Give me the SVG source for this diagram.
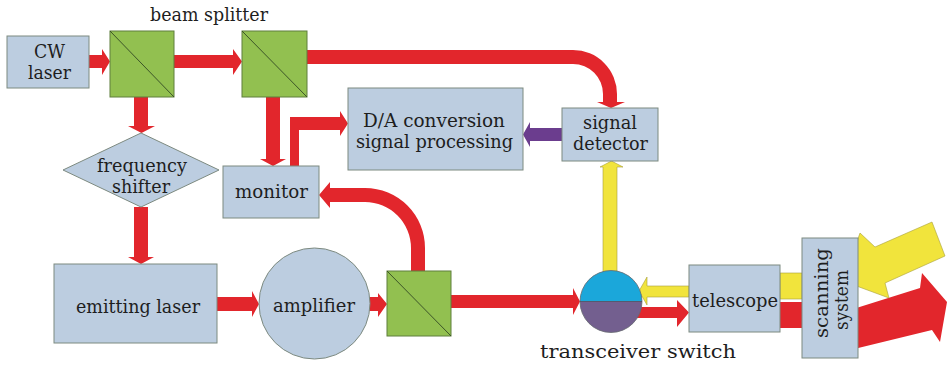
<svg xmlns="http://www.w3.org/2000/svg" width="947" height="365" viewBox="0 0 947 365">
  <style>
    .box { fill: #bccde0; stroke: #7d8a80; stroke-width: 1; }
    .bs { fill: #92c050; stroke: #5f7f3c; stroke-width: 1; }
    .diag { stroke: #3c5528; stroke-width: 1; }
    .red { fill: #e2262c; }
    .yel { fill: #f1e43c; stroke: #a79f3a; stroke-width: 0.6; }
    .pur { fill: #6b3d8e; }
    .lbl { font-family: "DejaVu Serif", "Liberation Serif", serif; font-size: 19px; fill: #1e1e1e; text-anchor: middle; }
  </style>

  <!-- connectors (beams) -->
  <g id="connectors">
    <!-- CW laser -> beam splitter 1 -->
    <polygon class="red" points="89,55 102,55 102,49 110,61.5 102,75 102,68 89,68"/>
    <!-- beam splitter 1 -> beam splitter 2 -->
    <polygon class="red" points="174,55 233,55 233,49 242,61.5 233,75 233,68 174,68"/>
    <!-- beam splitter 2 -> signal detector -->
    <path class="red" d="M307,50 H573 A44,44 0 0 1 617,94 V102 H625 L611,108 L597,102 H603 V94 A30,30 0 0 0 573,64 H307 Z"/>
    <!-- beam splitter 1 -> frequency shifter -->
    <polygon class="red" points="134,97 148,97 148,126 155,126 141.5,133 128,126 134,126"/>
    <!-- frequency shifter -> emitting laser -->
    <polygon class="red" points="134,207 148,207 148,257 154,257 141,264 128,257 134,257"/>
    <!-- beam splitter 2 -> monitor -->
    <polygon class="red" points="266,97 280,97 280,159 286,159 273,166 260,159 266,159"/>
    <!-- monitor -> D/A conversion -->
    <path class="red" d="M290,166 V117 H340 V111 L348,123.5 L340,136 V130 H299 V166 Z"/>
    <!-- emitting laser -> amplifier -->
    <polygon class="red" points="217,297 252,297 252,291 259,304 252,317 252,311 217,311"/>
    <!-- amplifier -> beam splitter 3 -->
    <polygon class="red" points="369,297 378,297 378,293 387,304 378,317 378,311 369,311"/>
    <!-- beam splitter 3 -> monitor -->
    <path class="red" d="M425,271 V248 A60,60 0 0 0 365,188 H330 V182 L319,195 L330,208 V202 H365 A46,46 0 0 1 411,248 V271 Z"/>
    <!-- beam splitter 3 -> transceiver switch -->
    <polygon class="red" points="451,295 573,295 573,288 580,301.5 573,315 573,308 451,308"/>
    <!-- transceiver switch -> telescope -->
    <polygon class="red" points="630,307 677,307 677,300 689,312.5 677,327 677,318 630,318"/>
    <!-- telescope -> transceiver switch (return) -->
    <polygon class="yel" points="689,286 647,286 647,277 639,291 647,305 647,297 689,297"/>
    <!-- transceiver switch -> signal detector -->
    <polygon class="yel" points="603,272 603,167 600,167 611.5,161 623,167 617,167 617,272"/>
    <!-- signal detector -> D/A conversion -->
    <polygon class="pur" points="562,128 530,128 530,122 523,134.5 530,147 530,141 562,141"/>
    <!-- telescope <-> scanning system -->
    <rect class="yel" x="780" y="273" width="22" height="26"/>
    <rect class="red" x="780" y="302" width="22" height="26"/>
    <!-- outgoing beam -->
    <polygon class="red" points="850,310 920,288 922,273 947,302 940,342 932,330 850,350"/>
    <!-- incoming echo -->
    <polygon class="yel" points="932,222 945,256 885,283 889,298 843,281 860,233 875,247"/>
  </g>

  <g id="cw-laser">
    <rect class="box" x="7" y="36" width="82" height="52"/>
    <text class="lbl" x="49.5" y="58" textLength="31" lengthAdjust="spacingAndGlyphs">CW</text>
    <text class="lbl" x="49.5" y="79" textLength="43" lengthAdjust="spacingAndGlyphs">laser</text>
  </g>

  <g id="beam-splitter-label">
    <text class="lbl" x="209" y="21" textLength="118" lengthAdjust="spacingAndGlyphs">beam splitter</text>
  </g>

  <g id="beam-splitter-1">
    <rect class="bs" x="110" y="31" width="64" height="66"/>
    <line class="diag" x1="110" y1="31" x2="174" y2="97"/>
  </g>

  <g id="beam-splitter-2">
    <rect class="bs" x="242" y="31" width="65" height="66"/>
    <line class="diag" x1="242" y1="31" x2="307" y2="97"/>
  </g>

  <g id="beam-splitter-3">
    <rect class="bs" x="387" y="271" width="64" height="65"/>
    <line class="diag" x1="387" y1="271" x2="451" y2="336"/>
  </g>

  <g id="frequency-shifter">
    <polygon class="box" points="63,170 141,133 219,170 141,207"/>
    <text class="lbl" x="142" y="172" textLength="90" lengthAdjust="spacingAndGlyphs">frequency</text>
    <text class="lbl" x="141" y="193" textLength="58" lengthAdjust="spacingAndGlyphs">shifter</text>
  </g>

  <g id="monitor">
    <rect class="box" x="223" y="166" width="96" height="52"/>
    <text class="lbl" x="271.5" y="198" textLength="73" lengthAdjust="spacingAndGlyphs">monitor</text>
  </g>

  <g id="da-conversion">
    <rect class="box" x="348" y="88" width="175" height="82"/>
    <text class="lbl" x="434" y="127" textLength="142" lengthAdjust="spacingAndGlyphs">D/A conversion</text>
    <text class="lbl" x="434.5" y="148" textLength="157" lengthAdjust="spacingAndGlyphs">signal processing</text>
  </g>

  <g id="signal-detector">
    <rect class="box" x="562" y="108" width="96" height="53"/>
    <text class="lbl" x="610" y="129" textLength="54" lengthAdjust="spacingAndGlyphs">signal</text>
    <text class="lbl" x="610.5" y="150" textLength="75" lengthAdjust="spacingAndGlyphs">detector</text>
  </g>

  <g id="emitting-laser">
    <rect class="box" x="54" y="264" width="163" height="79"/>
    <text class="lbl" x="138" y="313" textLength="124" lengthAdjust="spacingAndGlyphs">emitting laser</text>
  </g>

  <g id="amplifier">
    <circle class="box" cx="314.5" cy="303.5" r="55.5"/>
    <text class="lbl" x="314" y="312" textLength="82" lengthAdjust="spacingAndGlyphs">amplifier</text>
  </g>

  <g id="transceiver-switch">
    <path d="M580,301.5 A31,31 0 0 1 642,301.5 Z" fill="#1ba7da"/>
    <path d="M580,301.5 A31,31 0 0 0 642,301.5 Z" fill="#735f8f"/>
    <circle cx="611" cy="301.5" r="31" fill="none" stroke="#666a70" stroke-width="0.8"/>
    <line x1="580" y1="301.5" x2="642" y2="301.5" stroke="#4a4a5a" stroke-width="0.8"/>
    <text class="lbl" x="638" y="358" textLength="196" lengthAdjust="spacingAndGlyphs">transceiver switch</text>
  </g>

  <g id="telescope">
    <rect class="box" x="689" y="265" width="91" height="67"/>
    <text class="lbl" x="735" y="307" textLength="86" lengthAdjust="spacingAndGlyphs">telescope</text>
  </g>

  <g id="scanning-system">
    <rect class="box" x="802" y="238" width="56" height="120"/>
    <text class="lbl" transform="translate(828,293) rotate(-90)" x="0" y="0" textLength="90" lengthAdjust="spacingAndGlyphs">scanning</text>
    <text class="lbl" transform="translate(848,300) rotate(-90)" x="0" y="0" textLength="60" lengthAdjust="spacingAndGlyphs">system</text>
  </g>
</svg>
